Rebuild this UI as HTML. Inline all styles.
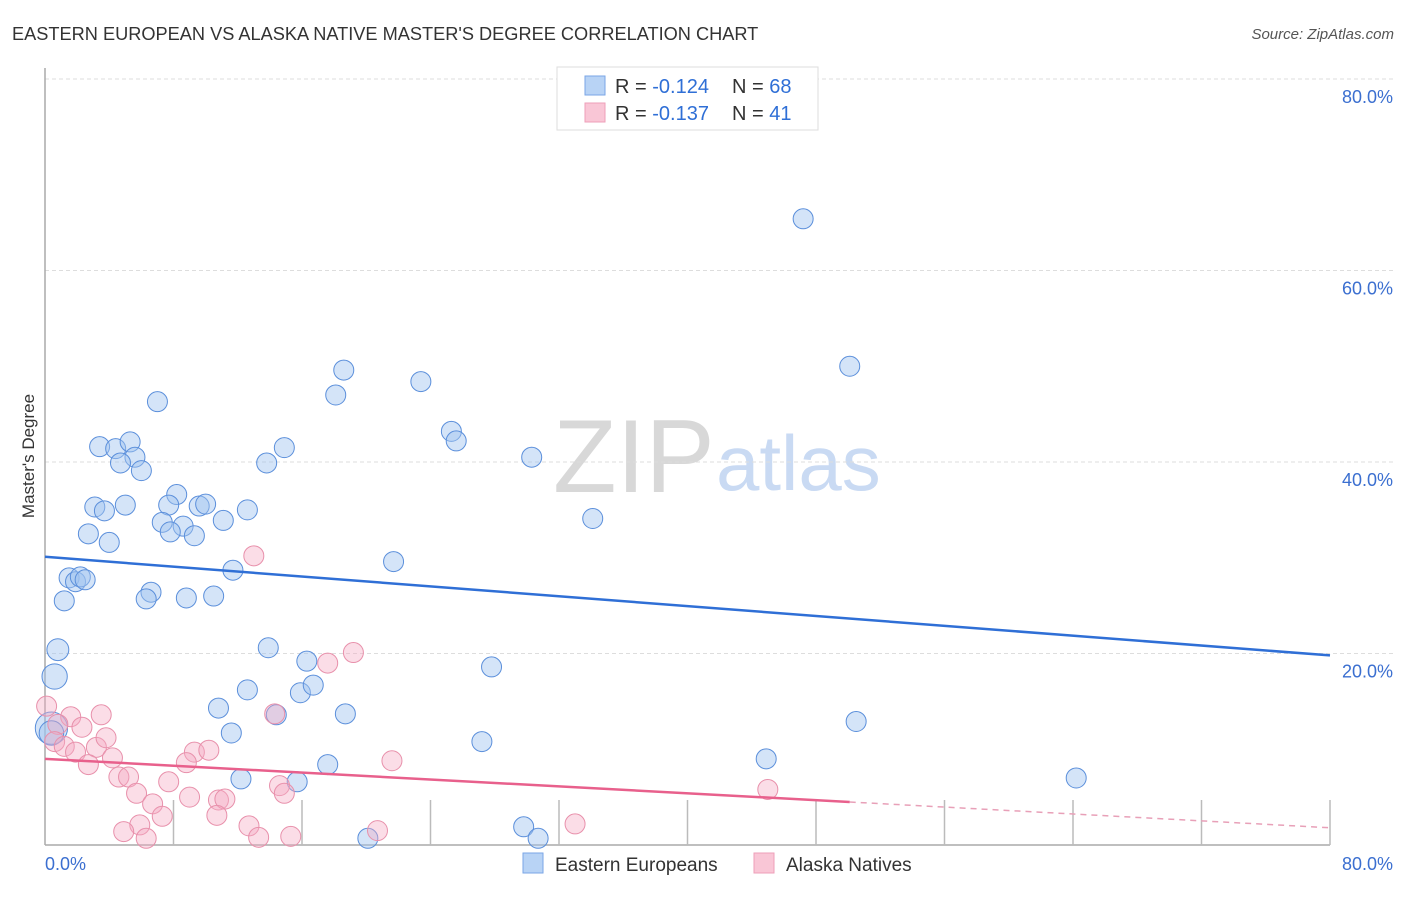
<!DOCTYPE html>
<html><head><meta charset="utf-8"><style>
body{margin:0;background:#fff;font-family:"Liberation Sans",sans-serif}
svg text{font-family:"Liberation Sans",sans-serif}
</style></head><body>
<svg id="chart" width="1406" height="892" viewBox="0 0 1406 892">
<text x="12" y="40" font-size="18.2" fill="#333">EASTERN EUROPEAN VS ALASKA NATIVE MASTER'S DEGREE CORRELATION CHART</text>
<text x="1394" y="39" font-size="15" fill="#555" text-anchor="end" font-style="italic">Source: ZipAtlas.com</text>
<text transform="translate(34,456) rotate(-90)" font-size="17" fill="#333" text-anchor="middle">Master's Degree</text>
<g>
<text x="553" y="492" font-size="104" fill="#d8d8d8" font-family="Liberation Serif,serif">ZIP</text>
<text x="716" y="490" font-size="78" fill="#c9daf3">atlas</text>
</g>
<g id="grid"></g><g id="pts"></g><g id="lines"></g>
<g>
<rect x="557" y="67" width="261" height="63" fill="#fff" stroke="#ddd"/>
<rect x="585" y="76" width="20" height="19" fill="#b8d3f5" stroke="#7aa6e6"/>
<rect x="585" y="103" width="20" height="19" fill="#f9c6d6" stroke="#ee9fb8"/>
<text x="615" y="93" font-size="20" fill="#333">R = <tspan fill="#2f6fd6">-0.124</tspan><tspan x="732">N = </tspan><tspan fill="#2f6fd6">68</tspan></text>
<text x="615" y="120" font-size="20" fill="#333">R = <tspan fill="#2f6fd6">-0.137</tspan><tspan x="732">N = </tspan><tspan fill="#2f6fd6"> 41</tspan></text>
</g>
<g>
<rect x="523" y="853" width="20" height="20" fill="#b8d3f5" stroke="#7aa6e6"/>
<text x="555" y="871" font-size="19" fill="#333">Eastern Europeans</text>
<rect x="754" y="853" width="20" height="20" fill="#f9c6d6" stroke="#ee9fb8"/>
<text x="786" y="871" font-size="19" fill="#333">Alaska Natives</text>
</g>
<text x="45" y="870" font-size="18" fill="#3b6fd0">0.0%</text>
<text x="1393" y="870" font-size="18" fill="#3b6fd0" text-anchor="end">80.0%</text>
</svg>
<script>
const yTicks=[20,40,60,80];
const yTickLabels=["20.0%","40.0%","60.0%","80.0%"];
const blueX=[47.2,50.1,18.6,18.1,23.4,7.0,25.3,25.6,30.3,3.4,4.4,5.3,5.6,4.7,6.0,13.8,14.9,8.2,7.7,9.6,10.0,3.1,3.7,5.0,7.3,8.6,7.8,9.3,11.1,12.6,2.7,4.0,34.1,21.7,11.7,1.5,1.9,2.2,2.5,1.2,6.6,6.3,8.8,10.5,0.8,0.6,13.9,16.3,27.8,12.6,15.9,16.7,10.8,14.4,18.7,50.5,11.6,27.2,0.4,44.9,64.2,12.2,15.7,17.6,29.8,30.7,20.1,0.4];
const blueY=[65.4,50.0,49.6,47.0,48.4,46.3,43.2,42.2,40.5,41.6,41.4,42.1,40.5,39.9,39.1,39.9,41.5,36.6,35.5,35.4,35.6,35.3,34.9,35.5,33.7,33.3,32.7,32.3,33.9,35.0,32.5,31.6,34.1,29.6,28.7,27.9,27.5,28.0,27.7,25.5,26.4,25.7,25.8,26.0,20.4,17.6,20.6,19.2,18.6,16.2,15.9,16.7,14.3,13.6,13.7,12.9,11.7,10.8,12.2,9.0,7.0,6.9,6.6,8.4,1.9,0.7,0.7,11.7];
const blueN=[1,1,1,1,1,1,1,1,1,1,1,1,1,1,1,1,1,1,1,1,1,1,1,1,1,1,1,1,1,1,1,1,1,1,1,1,1,1,1,1,1,1,1,1,1.2,1.6,1,1,1,1,1,1,1,1,1,1,1,1,2.6,1,1,1,1,1,1,1,1,1.5];
const pinkX=[13.0,19.2,17.6,0.1,1.6,3.5,0.8,2.3,0.6,1.2,1.9,3.2,3.8,4.2,2.7,9.3,8.8,21.6,14.3,4.6,5.2,7.7,5.7,9.0,6.7,10.8,11.2,10.7,7.3,14.6,14.9,45.0,12.7,5.9,4.9,6.3,13.3,15.3,20.7,33.0,10.2];
const pinkY=[30.2,20.1,19.0,14.5,13.4,13.6,12.6,12.3,10.8,10.3,9.7,10.2,11.2,9.1,8.4,9.7,8.6,8.8,13.7,7.1,7.1,6.6,5.4,5.0,4.3,4.7,4.8,3.1,3.0,6.2,5.4,5.8,2.0,2.1,1.4,0.7,0.8,0.9,1.5,2.2,9.9];
const blueTrend=[30.1,19.8];
const pinkTrend=[9.0,1.8];
const pinkSolidEnd=50.1;

const X0=45,X1=1330,Y0=845,PX=(X1-X0)/80,PY=(845-79)/80;
const sx=v=>X0+v*PX, sy=v=>Y0-v*PY;
const NS="http://www.w3.org/2000/svg";
function mk(tag,attrs,parent){const e=document.createElementNS(NS,tag);for(const k in attrs)e.setAttribute(k,attrs[k]);parent.appendChild(e);return e;}
const grid=document.getElementById('grid');
yTicks.forEach((t,i)=>{
 const l=mk('line',{x1:X0,x2:1393,y1:sy(t),y2:sy(t),stroke:'#ddd','stroke-dasharray':'4,3'},grid);
 
 
 const tx=mk('text',{x:1393,y:sy(t)+24,'font-size':18,fill:'#3b6fd0','text-anchor':'end'},grid);
 tx.textContent=yTickLabels[i];
 
 
});
const ax=mk('line',{x1:X0,x2:X0,y1:68,y2:Y0,stroke:'#aaa','stroke-width':1.5},grid);


const bx=mk('line',{x1:X0,x2:X1,y1:Y0,y2:Y0,stroke:'#aaa','stroke-width':1.5},grid);


for(let i=1;i<=10;i++){
 const t=mk('line',{x1:sx(i*8),x2:sx(i*8),y1:Y0,y2:Y0-45,stroke:'#bbb','stroke-width':1.5},grid);
 
 
}
const pts=document.getElementById('pts');
blueX.forEach((x,i)=>{
 const c=mk('circle',{cx:sx(x),cy:sy(blueY[i]),r:10*Math.sqrt(blueN[i]),fill:'rgba(160,196,240,0.45)',stroke:'#5b8fdb','stroke-width':1},pts);
 
 
});
pinkX.forEach((x,i)=>{
 const c=mk('circle',{cx:sx(x),cy:sy(pinkY[i]),r:10,fill:'rgba(244,170,195,0.4)',stroke:'#e890ab','stroke-width':1},pts);
 
 
});
const lines=document.getElementById('lines');
const bl=mk('line',{x1:sx(0),y1:sy(blueTrend[0]),x2:sx(80),y2:sy(blueTrend[1]),stroke:'#2f6fd6','stroke-width':2.5},lines);


const pm=pinkTrend[0]+(pinkTrend[1]-pinkTrend[0])*pinkSolidEnd/80;
const pl=mk('line',{x1:sx(0),y1:sy(pinkTrend[0]),x2:sx(pinkSolidEnd),y2:sy(pm),stroke:'#e8608c','stroke-width':2.5},lines);


const pd=mk('line',{x1:sx(pinkSolidEnd),y1:sy(pm),x2:sx(80),y2:sy(pinkTrend[1]),stroke:'#e8a0b8','stroke-width':1.5,'stroke-dasharray':'6,5'},lines);


</script>
</body></html>
